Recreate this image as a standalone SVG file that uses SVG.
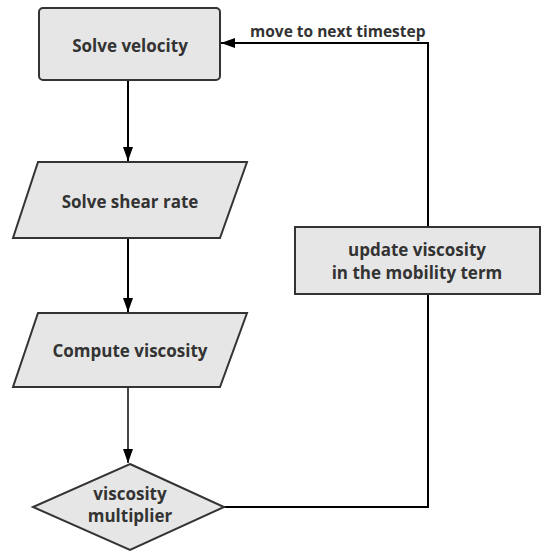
<svg xmlns="http://www.w3.org/2000/svg" width="545" height="553" viewBox="0 0 545 553">
<defs>
<style>
.shape{fill:#e6e6e6;stroke:#333;stroke-width:2}
.t{font-family:"Open Sans","Noto Sans","DejaVu Sans",sans-serif;font-weight:bold;font-size:17px;fill:#333;text-anchor:middle}
.lbl{font-family:"Open Sans","Noto Sans","DejaVu Sans",sans-serif;font-weight:bold;font-size:15.5px;fill:#333}
.c{fill:none;stroke:#000;stroke-width:2}
</style>
<marker id="ah2" viewBox="0 0 14 10" refX="14" refY="5" markerWidth="14" markerHeight="10" orient="auto" markerUnits="userSpaceOnUse">
<path d="M0,0 L14,5 L0,10 z" fill="#000"/>
</marker>
</defs>
<g id="connectors">
<path class="c" d="M128,80 V161" marker-end="url(#ah2)"/>
<path class="c" d="M128,238 V312" marker-end="url(#ah2)"/>
<path class="c" style="stroke:#444" d="M128,387 V463" marker-end="url(#ah2)"/>
<path class="c" d="M224,507 H428 V294"/>
<path class="c" d="M428,227 V43 H221" marker-end="url(#ah2)"/>
<text class="lbl" x="250" y="37">move to next timestep</text>
</g>
<g id="solve-velocity">
<rect class="shape" x="39" y="8" width="181" height="72" rx="4"/>
<text class="t" x="130" y="52">Solve velocity</text>
</g>
<g id="solve-shear-rate">
<polygon class="shape" points="38,162 247,162 220,238 13,238"/>
<text class="t" x="130" y="208">Solve shear rate</text>
</g>
<g id="compute-viscosity">
<polygon class="shape" points="38,313 247,313 220,387 13,387"/>
<text class="t" x="130" y="357">Compute viscosity</text>
</g>
<g id="viscosity-multiplier">
<polygon class="shape" points="130,464 224,507 130,550 33,507"/>
<text class="t" x="130" y="500">viscosity</text>
<text class="t" x="130" y="522">multiplier</text>
</g>
<g id="update-viscosity">
<rect class="shape" x="295" y="227" width="245" height="67"/>
<text class="t" x="417" y="256">update viscosity</text>
<text class="t" x="417" y="279">in the mobility term</text>
</g>
</svg>
